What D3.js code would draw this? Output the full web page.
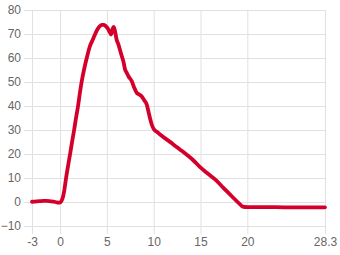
<!DOCTYPE html>
<html>
<head>
<meta charset="utf-8">
<script src="https://cdn.jsdelivr.net/npm/d3@7"></script>
<style>
  body { margin: 0; background: #fff; }
  svg { display: block; }
</style>
</head>
<body>
<script>
// values
const xValues = [-3, -2.5, -2, -1.5, -1, -0.5, -0.15, 0, 0.15, 0.3, 0.45, 0.64, 0.85, 1.07, 1.3, 1.5, 1.7, 1.92, 2.1, 2.3,
  2.55, 2.85, 3.15, 3.5, 3.75, 4.0, 4.25, 4.45, 4.7, 4.9, 5.1, 5.3, 5.45, 5.6, 5.72, 5.85, 6.05, 6.2, 6.34, 6.59,
  6.8, 6.94, 7.1, 7.3, 7.66, 7.9, 8.19, 8.45, 8.73, 9.0, 9.26, 9.45, 9.6, 9.79, 10.04, 10.33, 10.68, 11.4, 12.1, 12.8,
  13.5, 14.2, 14.96, 15.67, 16.56, 17.45, 18.34, 19.23, 19.5, 20, 22, 24, 26, 28.3];
const yValues = [0.1, 0.3, 0.4, 0.5, 0.3, 0, -0.3, -0.2, 0.5, 2, 4.8, 10, 15, 20, 25.5, 30, 35, 40, 45, 50,
  55, 60, 64.5, 67.7, 70, 72, 73.3, 73.8, 73.8, 73.2, 72.3, 70.8, 69.8, 72, 73, 71.5, 67.5, 66, 64.2, 60.8,
  58, 55.2, 54, 52.4, 50.3, 47.8, 45.5, 44.8, 44, 42.3, 40.6, 37.5, 35, 32.3, 30.2, 29.3, 28.1, 26, 24, 21.9,
  19.8, 17.5, 14.5, 12.2, 9.4, 5.9, 2.4, -1, -1.9, -2.1, -2.1, -2.2, -2.2, -2.2];
const xTicks = [-3, 0, 5, 10, 15, 20, 28.3];
const yTicks = [-10, 0, 10, 20, 30, 40, 50, 60, 70, 80];

const data = xValues.map((x, i) => ({ x: x, y: yValues[i] }));

const margin = { top: 10, right: 15, bottom: 29, left: 32 };
const width = 340 - margin.left - margin.right;
const height = 255 - margin.top - margin.bottom;

const svg = d3.select("body")
  .append("svg")
  .attr("width", 340)
  .attr("height", 255)
  .append("g")
  .attr("transform", `translate(${margin.left},${margin.top})`);

const x = d3.scaleLinear().domain([-3, 28.3]).range([0, width]);
const y = d3.scaleLinear().domain([-10, 80]).range([height, 0]);

const gridColor = "#e1e1e1";
const font = "'Liberation Sans', Arial, sans-serif";

// y grid + labels
const yAxis = svg.append("g")
  .call(d3.axisLeft(y).tickValues(yTicks).tickPadding(3));
yAxis.select(".domain").remove();
yAxis.selectAll(".tick line")
  .attr("x1", -8).attr("x2", width)
  .attr("stroke", gridColor);
yAxis.selectAll(".tick text")
  .attr("x", -11)
  .attr("fill", "#666")
  .style("font-family", font)
  .style("font-size", "12px");

// x grid + labels
const xAxis = svg.append("g")
  .attr("transform", `translate(0,${height})`)
  .call(d3.axisBottom(x).tickValues(xTicks).tickFormat(d => d).tickPadding(3));
xAxis.select(".domain").remove();
xAxis.selectAll(".tick line")
  .attr("y1", -height).attr("y2", 8)
  .attr("stroke", gridColor);
xAxis.selectAll(".tick text")
  .attr("y", 11)
  .attr("fill", "#666")
  .style("font-family", font)
  .style("font-size", "12px");

// the curve
const line = d3.line()
  .x(d => x(d.x))
  .y(d => y(d.y))
  .curve(d3.curveMonotoneX);

svg.append("path")
  .datum(data)
  .attr("fill", "none")
  .attr("stroke", "#d4002c")
  .attr("stroke-width", 3.8)
  .attr("stroke-linejoin", "round")
  .attr("stroke-linecap", "round")
  .attr("d", line);
</script>
</body>
</html>
